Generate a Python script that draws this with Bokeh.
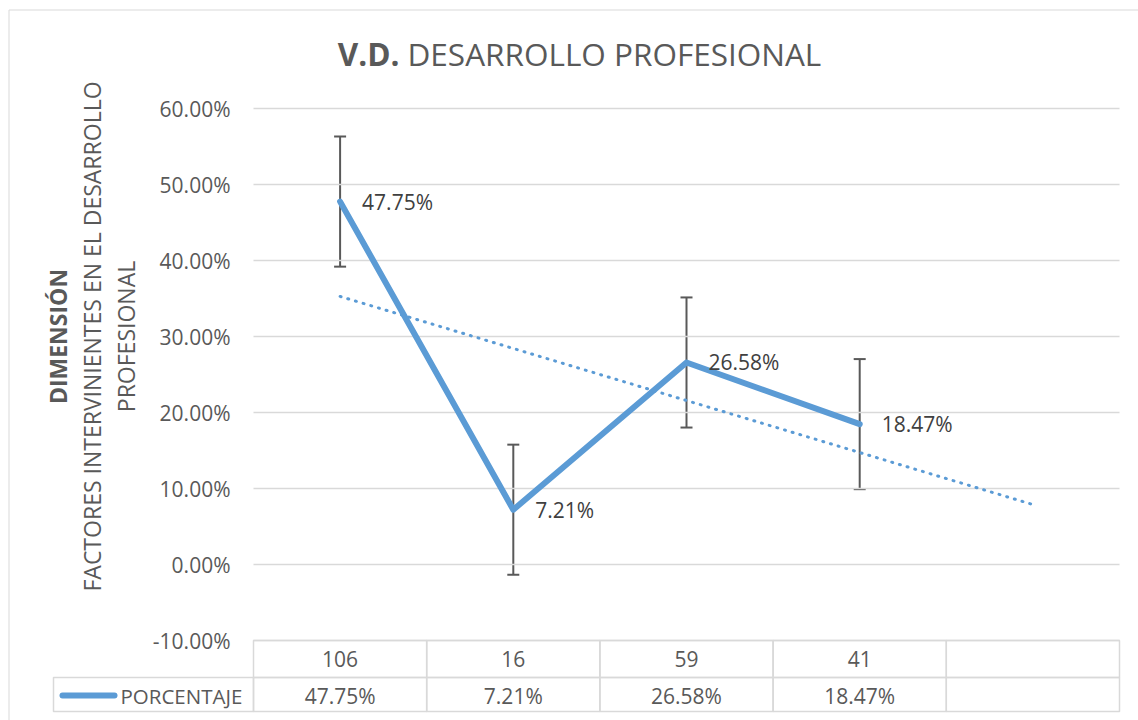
import numpy as np
from bokeh.plotting import figure
from bokeh.models import ColumnDataSource, Whisker, TeeHead, Range1d
from bokeh.core.properties import value
from bokeh.embed import file_html
from bokeh.resources import INLINE

# ---------------- data ----------------
categories = ["106", "16", "59", "41"]
porcentaje = [47.75, 7.21, 26.58, 18.47]
series_name = "PORCENTAJE"
y_ticks = [-10, 0, 10, 20, 30, 40, 50, 60]
title_bold = "V.D."
title_rest = "DESARROLLO PROFESIONAL"
ytitle_bold = "DIMENSIÓN"
ytitle_lines = ["FACTORES INTERVINIENTES EN EL DESARROLLO", "PROFESIONAL"]

# ---------------- style ----------------
FONT = "Open Sans"
BLUE = "#5b9bd5"
GREY_TEXT = "#595959"
DARK_TEXT = "#404040"
BORDER = "#d9d9d9"

W, H = 1138, 720
FL, FR, FT, FB = 253, 1119, 108, 640   # plot-area edges (pixels)

n = len(categories)
xs = list(range(1, n + 1))
slots = n + 1                          # one extra slot for the trendline forecast
XA = (0.5, slots + 0.5)
YA = (y_ticks[0], y_ticks[-1])


def X(px):
    return XA[0] + (px - FL) * (XA[1] - XA[0]) / (FR - FL)


def Y(py):
    return YA[1] - (py - FT) * (YA[1] - YA[0]) / (FB - FT)


# derived: standard-error bars and linear trendline (forecast +1 period)
se = float(np.std(porcentaje, ddof=1) / np.sqrt(n))
coef = np.polyfit(xs, porcentaje, 1)
tx = [xs[0], slots]
ty = list(np.polyval(coef, tx))

src = ColumnDataSource(dict(
    x=xs, y=porcentaje,
    upper=[v + se for v in porcentaje],
    lower=[v - se for v in porcentaje],
    lab=[f"{v:.2f}%" for v in porcentaje],
))

p = figure(width=W, height=H, x_range=Range1d(X(0), X(W)),
           y_range=Range1d(Y(H), Y(0)),
           output_backend="svg", toolbar_location=None,
           x_axis_location=None, y_axis_location=None, min_border=0)
p.outline_line_color = None
p.xgrid.visible = False
p.ygrid.visible = False
p.background_fill_color = "white"
p.border_fill_color = "white"

txt = dict(text_font=value(FONT), text_baseline="middle")

# chart outer border
p.quad(left=X(8.5), right=X(W + 50), top=Y(9.5), bottom=Y(H + 50),
       fill_color=None, line_color=BORDER, line_width=1)

# horizontal gridlines (value axis)
p.segment(x0=[XA[0]] * len(y_ticks), x1=[XA[1]] * len(y_ticks),
          y0=y_ticks, y1=y_ticks, line_color=BORDER, line_width=1.5)

# value-axis tick labels
p.text(x=[X(230)] * len(y_ticks), y=y_ticks,
       text=[f"{t:.2f}%" for t in y_ticks], text_align="right",
       text_font_size="21px", text_color=GREY_TEXT, **txt)

# data table
ROW1_B, ROW2_B, LEG_L = 677, 711, 53
cells_l = [i - 0.5 for i in range(1, slots + 1)]
cells_r = [i + 0.5 for i in range(1, slots + 1)]
p.quad(left=cells_l, right=cells_r, top=[Y(FB)] * slots, bottom=[Y(ROW1_B)] * slots,
       fill_color=None, line_color=BORDER, line_width=1.5)
p.quad(left=cells_l, right=cells_r, top=[Y(ROW1_B)] * slots, bottom=[Y(ROW2_B)] * slots,
       fill_color=None, line_color=BORDER, line_width=1.5)
p.quad(left=X(LEG_L), right=XA[0], top=Y(ROW1_B), bottom=Y(ROW2_B),
       fill_color=None, line_color=BORDER, line_width=1.5)

# category row
p.text(x=xs, y=[Y(658)] * n, text=categories, text_align="center",
       text_font_size="21px", text_color=GREY_TEXT, **txt)
# value row
p.text(x=xs, y=[Y(695)] * n, text=[f"{v:.2f}%" for v in porcentaje],
       text_align="center", text_font_size="21px", text_color=GREY_TEXT, **txt)
# legend key + series name
p.line(x=[X(62), X(114)], y=[Y(695), Y(695)], line_color=BLUE, line_width=6,
       line_cap="round")
p.text(x=[X(120)], y=[Y(695)], text=[series_name], text_align="left",
       text_font_size="20.5px", text_color=GREY_TEXT, **txt)

# error bars
wh = Whisker(base="x", upper="upper", lower="lower", source=src,
             line_color=GREY_TEXT, line_width=2,
             upper_head=TeeHead(size=12, line_color=GREY_TEXT, line_width=2),
             lower_head=TeeHead(size=12, line_color=GREY_TEXT, line_width=2))
p.add_layout(wh)

# trendline
p.line(tx, ty, line_color=BLUE, line_width=3, line_dash="1 7", line_cap="round")

# series
p.line("x", "y", source=src, line_color=BLUE, line_width=6,
       line_join="round", line_cap="round")

# data labels
p.text("x", "y", text="lab", source=src, x_offset=22, text_align="left",
       text_font_size="21px", text_color=DARK_TEXT, **txt)

# title
p.text(x=[X(399)], y=[Y(53)], text=[title_bold], text_align="right",
       text_font_size="31.5px", text_font_style="bold", text_color=GREY_TEXT, **txt)
p.text(x=[X(407)], y=[Y(53)], text=[title_rest], text_align="left",
       text_font_size="31.5px", text_color=GREY_TEXT, **txt)

# value-axis titles (rotated)
p.text(x=[X(57)], y=[Y(336)], text=[ytitle_bold], angle=np.pi / 2,
       text_align="center", text_font_size="23px", text_font_style="bold",
       text_color=GREY_TEXT, **txt)
p.text(x=[X(91), X(125)], y=[Y(336), Y(336)], text=ytitle_lines, angle=np.pi / 2,
       text_align="center", text_font_size="23px", text_color=GREY_TEXT, **txt)

open("out.html", "w").write(file_html(p, INLINE))
